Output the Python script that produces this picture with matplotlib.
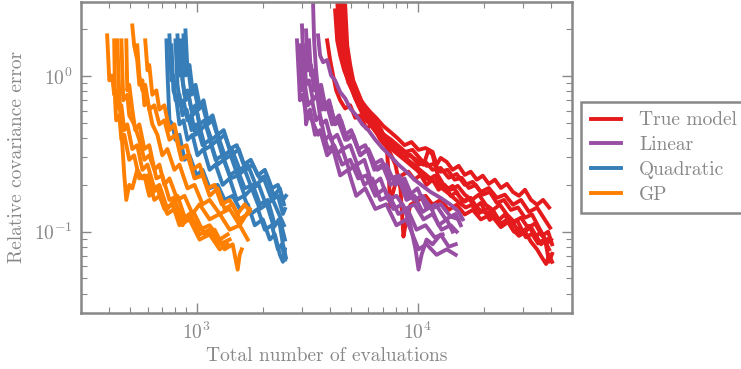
import numpy as np
import matplotlib.pyplot as plt

# colours / labels
labels = ['True model', 'Linear', 'Quadratic', 'GP']
colors = ['#e41a1c', '#984ea3', '#377eb8', '#ff7f00']

# True model runs
true_x = [
    [3899, 4023, 4150, 4285, 4467, 4706, 4959, 5225, 5506, 5867, 6244, 6788, 7380, 7942, 8368, 8635, 8818, 9292, 10105, 10873, 11700, 12725, 13840, 15040, 16360, 17780, 19336, 21469, 23836, 26465, 29383, 32624, 36222, 38590],
    [4329, 4420, 4560, 4706, 4856, 5065, 5280, 5506, 5802, 6113, 6510, 6934, 7460, 8028, 8635, 9292, 10105, 10873, 11700, 12725, 13840, 15040, 16360, 17780, 19336, 21020, 22860, 24840, 27030, 29383, 31950, 34750, 37760, 39810],
    [4467, 4560, 4706, 4856, 5065, 5280, 5563, 5867, 6244, 6647, 7152, 7697, 8368, 9099, 9895, 10648, 11220, 11700, 12330, 13130, 14128, 15200, 16360, 17600, 18940, 20370, 21920, 23590, 25380, 27310, 29383, 31620, 34040, 36610, 38980, 40640],
    [4608, 4706, 4807, 4959, 5171, 5392, 5681, 5987, 6376, 6788, 7227, 7697, 8195, 8730, 9292, 9895, 10536, 11220, 11950, 12725, 13550, 14420, 15360, 16360, 17415, 18540, 19730, 21020, 22390, 23836, 25380, 27030, 28780, 30640, 32624, 34750, 36610, 38170, 39390, 40640],
    [4706, 4807, 4959, 5117, 5336, 5563, 5867, 6180, 6510, 6860, 7227, 7380, 7536, 7697, 8028, 8547, 9099, 9690, 10319, 10990, 11700, 12460, 13270, 14128, 15040, 16020, 17060, 18160, 19336, 20590, 21920, 23340, 24840, 26465, 28180, 29990, 31950, 34040, 36222, 38590, 40216],
    [4420, 4513, 4657, 4807, 5012, 5225, 5506, 5802, 6180, 6578, 7080, 7619, 8195, 8818, 9490, 10210, 10990, 11830, 12725, 13690, 14720, 15850, 17060, 18350, 19730, 21240, 22860, 24600, 26465, 28480, 30640, 32960, 35470, 37760, 39390, 40640],
    [4238, 4329, 4467, 4657, 4856, 5117, 5392, 5745, 6113, 6510, 7004, 7536, 8110, 8730, 9390, 10105, 10873, 11700, 12200, 12725, 13550, 14420, 15360, 16360, 17415, 18540, 19730, 21020, 22390, 23836, 25380, 27030, 28780, 30640, 32624, 34750, 36990, 39390],
    [4513, 4608, 4706, 4856, 5012, 5225, 5446, 5745, 6050, 6442, 6860, 7303, 7780, 8280, 8818, 9390, 10000, 10650, 11340, 12070, 12850, 13690, 14580, 15520, 16530, 17600, 18740, 19950, 21240, 22620, 24090, 25630, 27310, 29080, 30960, 32960, 35110, 37380, 39390],
]
true_y = [
    [1.70, 1.27, 1.01, 0.81, 0.70, 0.62, 0.65, 0.54, 0.56, 0.46, 0.49, 0.39, 0.34, 0.27, 0.19, 0.093, 0.11, 0.149, 0.16, 0.17, 0.149, 0.16, 0.138, 0.149, 0.129, 0.138, 0.12, 0.129, 0.107, 0.119, 0.096, 0.107, 0.083, 0.089],
    [3.07, 1.97, 1.36, 1.09, 0.915, 0.81, 0.70, 0.62, 0.56, 0.49, 0.438, 0.39, 0.356, 0.336, 0.298, 0.312, 0.269, 0.281, 0.25, 0.257, 0.222, 0.235, 0.20, 0.209, 0.18, 0.191, 0.165, 0.173, 0.149, 0.16, 0.134, 0.143, 0.119, 0.106],
    [3.07, 1.97, 1.36, 1.01, 0.838, 0.72, 0.62, 0.52, 0.478, 0.425, 0.39, 0.36, 0.336, 0.312, 0.29, 0.269, 0.336, 0.312, 0.232, 0.20, 0.186, 0.197, 0.173, 0.16, 0.173, 0.149, 0.138, 0.149, 0.129, 0.116, 0.123, 0.106, 0.113, 0.094, 0.10, 0.083],
    [3.07, 1.70, 1.23, 0.94, 0.76, 0.65, 0.56, 0.507, 0.45, 0.40, 0.372, 0.336, 0.312, 0.29, 0.269, 0.25, 0.229, 0.216, 0.229, 0.20, 0.186, 0.197, 0.17, 0.156, 0.165, 0.143, 0.134, 0.143, 0.123, 0.113, 0.119, 0.103, 0.094, 0.10, 0.086, 0.077, 0.068, 0.062, 0.071, 0.064],
    [2.85, 1.58, 1.18, 0.94, 0.81, 0.70, 0.62, 0.56, 0.507, 0.45, 0.377, 0.25, 0.145, 0.173, 0.216, 0.232, 0.243, 0.216, 0.232, 0.20, 0.216, 0.186, 0.20, 0.17, 0.18, 0.156, 0.165, 0.143, 0.153, 0.13, 0.138, 0.119, 0.129, 0.109, 0.119, 0.10, 0.109, 0.092, 0.10, 0.084, 0.089],
    [2.65, 1.70, 1.27, 1.01, 0.838, 0.72, 0.642, 0.571, 0.515, 0.466, 0.419, 0.389, 0.356, 0.326, 0.336, 0.298, 0.265, 0.273, 0.243, 0.25, 0.216, 0.222, 0.191, 0.20, 0.173, 0.18, 0.153, 0.16, 0.138, 0.143, 0.123, 0.129, 0.106, 0.089, 0.064, 0.072],
    [2.65, 1.70, 1.36, 1.09, 0.94, 0.81, 0.72, 0.652, 0.588, 0.538, 0.478, 0.438, 0.40, 0.36, 0.377, 0.336, 0.345, 0.326, 0.269, 0.298, 0.281, 0.25, 0.265, 0.232, 0.243, 0.216, 0.229, 0.203, 0.216, 0.191, 0.203, 0.18, 0.17, 0.186, 0.16, 0.149, 0.16, 0.143],
    [2.85, 1.83, 1.36, 1.09, 0.94, 0.79, 0.70, 0.605, 0.538, 0.478, 0.425, 0.389, 0.356, 0.326, 0.298, 0.277, 0.257, 0.239, 0.222, 0.206, 0.191, 0.178, 0.165, 0.153, 0.143, 0.149, 0.13, 0.138, 0.119, 0.127, 0.109, 0.116, 0.10, 0.106, 0.092, 0.097, 0.084, 0.089, 0.077],
]

# Linear surrogate runs
lin_x = [
    [2848, 2909, 2937, 3030, 3130, 3263, 3437, 3623, 3899, 4150, 4467, 4856, 5280, 5802, 6442, 7227, 8028, 8913, 10105, 10990, 12200, 13550, 14890],
    [3000, 3062, 3130, 3193, 3332, 3547, 3700, 3939, 4194, 4560, 4959, 5392, 5867, 6442, 7080, 7776, 8547, 9292, 9793, 10105, 10430, 10990, 11700, 12725, 13840, 14890],
    [3130, 3193, 3297, 3404, 3547, 3700, 3899, 4110, 4373, 4706, 5065, 5506, 5987, 6578, 7227, 7942, 8730, 9588, 10536, 11575, 12725, 14128, 15360],
    [3365, 3404, 3474, 3547, 3661, 3817, 3981, 4194, 4420, 4706, 5012, 5392, 5802, 6308, 6860, 7536, 8280, 9099, 10000, 10990, 12070, 13410, 14890, 15686],
    [3547, 3623, 3738, 3899, 4064, 4238, 4467, 4706, 4959, 5280, 5623, 5987, 6442, 6934, 7536, 8195, 8913, 9690, 10536, 11460, 12725, 14128, 15360, 16020],
    [2937, 3000, 3094, 3193, 3332, 3474, 3623, 3817, 4023, 4285, 4560, 4909, 5280, 5745, 6244, 6788, 7460, 8195, 9005, 9895, 10873, 11950, 12990],
    [3062, 3130, 3228, 3365, 3512, 3661, 3855, 4064, 4329, 4608, 4959, 5336, 5745, 6244, 6788, 7380, 8028, 8818, 9690, 10648, 11700, 12850, 14128, 15040],
    [3228, 3297, 3404, 3512, 3661, 3817, 4023, 4238, 4513, 4807, 5117, 5506, 5925, 6376, 6934, 7536, 8195, 8913, 9690, 10536, 11460, 12460, 13550, 14420],
]
lin_y = [
    [1.70, 0.94, 0.70, 0.76, 0.56, 0.61, 0.42, 0.45, 0.31, 0.34, 0.23, 0.25, 0.17, 0.19, 0.14, 0.15, 0.11, 0.12, 0.077, 0.083, 0.071, 0.077, 0.071],
    [2.12, 1.01, 0.49, 0.56, 0.52, 0.42, 0.45, 0.34, 0.36, 0.27, 0.29, 0.22, 0.23, 0.17, 0.19, 0.14, 0.15, 0.11, 0.077, 0.057, 0.071, 0.089, 0.083, 0.096, 0.080, 0.083],
    [1.97, 1.09, 1.18, 0.81, 0.88, 0.61, 0.65, 0.49, 0.52, 0.39, 0.42, 0.31, 0.34, 0.25, 0.27, 0.20, 0.22, 0.16, 0.17, 0.14, 0.15, 0.125, 0.12],
    [3.07, 1.70, 1.09, 0.81, 0.88, 0.65, 0.70, 0.52, 0.56, 0.42, 0.45, 0.34, 0.36, 0.27, 0.29, 0.22, 0.23, 0.17, 0.19, 0.14, 0.15, 0.12, 0.13, 0.11],
    [1.83, 1.36, 1.23, 1.27, 1.01, 0.94, 0.79, 0.72, 0.62, 0.56, 0.49, 0.45, 0.39, 0.345, 0.307, 0.27, 0.243, 0.216, 0.197, 0.18, 0.165, 0.149, 0.134, 0.12],
    [1.58, 0.81, 0.88, 0.65, 0.70, 0.52, 0.56, 0.39, 0.42, 0.31, 0.34, 0.25, 0.27, 0.20, 0.22, 0.16, 0.17, 0.13, 0.14, 0.103, 0.11, 0.092, 0.096],
    [1.58, 0.88, 0.94, 0.70, 0.76, 0.49, 0.52, 0.39, 0.42, 0.34, 0.36, 0.27, 0.29, 0.20, 0.22, 0.16, 0.17, 0.14, 0.15, 0.12, 0.13, 0.103, 0.11, 0.10],
    [1.70, 1.01, 1.09, 0.76, 0.81, 0.61, 0.65, 0.49, 0.52, 0.39, 0.42, 0.31, 0.34, 0.25, 0.27, 0.20, 0.22, 0.16, 0.17, 0.134, 0.145, 0.11, 0.12, 0.10],
]

# Quadratic surrogate runs
quad_x = [
    [731, 738, 754, 778, 803, 837, 882, 929, 1000, 1065, 1146, 1246, 1340, 1457, 1568, 1705, 1835, 1995, 2146, 2262, 2383, 2460, 2512],
    [754, 770, 786, 803, 837, 864, 901, 949, 1000, 1065, 1146, 1220, 1313, 1412, 1535, 1652, 1797, 1933, 2102, 2262, 2383, 2512],
    [820, 837, 855, 882, 910, 949, 990, 1032, 1087, 1170, 1246, 1340, 1442, 1568, 1705, 1853, 2016, 2193, 2334, 2460, 2512],
    [891, 910, 929, 959, 990, 1032, 1076, 1122, 1182, 1246, 1327, 1412, 1520, 1635, 1760, 1894, 2037, 2193, 2334, 2460, 2538],
    [770, 786, 811, 837, 873, 910, 959, 1010, 1076, 1146, 1220, 1313, 1412, 1520, 1635, 1760, 1894, 2037, 2193, 2334, 2432, 2512],
    [846, 864, 891, 920, 959, 1000, 1043, 1099, 1170, 1246, 1327, 1427, 1535, 1652, 1778, 1913, 2059, 2215, 2359, 2486],
    [803, 820, 846, 873, 910, 949, 990, 1043, 1099, 1170, 1246, 1327, 1427, 1535, 1652, 1778, 1933, 2081, 2239, 2359, 2460, 2538],
    [873, 891, 920, 949, 979, 1021, 1065, 1122, 1182, 1259, 1340, 1442, 1552, 1670, 1797, 1933, 2081, 2239, 2383, 2486],
]
quad_y = [
    [1.70, 1.09, 0.52, 0.49, 0.39, 0.42, 0.29, 0.31, 0.23, 0.25, 0.19, 0.20, 0.16, 0.17, 0.14, 0.15, 0.11, 0.12, 0.089, 0.096, 0.071, 0.064, 0.077],
    [1.83, 0.94, 1.01, 0.70, 0.76, 0.56, 0.61, 0.45, 0.49, 0.36, 0.39, 0.29, 0.31, 0.23, 0.25, 0.19, 0.20, 0.15, 0.16, 0.11, 0.12, 0.089],
    [1.83, 1.01, 1.09, 0.76, 0.81, 0.61, 0.65, 0.49, 0.52, 0.39, 0.42, 0.31, 0.34, 0.25, 0.27, 0.20, 0.22, 0.16, 0.17, 0.13, 0.14],
    [1.97, 1.09, 1.18, 0.81, 0.88, 0.65, 0.70, 0.52, 0.56, 0.42, 0.45, 0.34, 0.36, 0.27, 0.29, 0.23, 0.25, 0.19, 0.20, 0.16, 0.17],
    [1.58, 0.81, 0.70, 0.49, 0.52, 0.39, 0.42, 0.31, 0.34, 0.25, 0.27, 0.20, 0.22, 0.16, 0.17, 0.13, 0.14, 0.103, 0.11, 0.077, 0.083, 0.066],
    [1.70, 0.94, 0.70, 0.76, 0.56, 0.61, 0.45, 0.49, 0.36, 0.39, 0.29, 0.31, 0.23, 0.25, 0.19, 0.20, 0.15, 0.16, 0.13, 0.11],
    [1.70, 0.88, 0.65, 0.70, 0.52, 0.56, 0.42, 0.45, 0.34, 0.36, 0.27, 0.29, 0.22, 0.23, 0.17, 0.19, 0.14, 0.15, 0.107, 0.12, 0.083, 0.068],
    [1.83, 1.01, 1.09, 0.76, 0.81, 0.61, 0.65, 0.49, 0.52, 0.39, 0.42, 0.31, 0.34, 0.25, 0.27, 0.22, 0.23, 0.17, 0.19, 0.15],
]

# GP surrogate runs
gp_x = [
    [394, 403, 415, 424, 438, 447, 457, 471, 486, 512, 539, 569, 600, 644, 679, 738, 794, 864, 929, 1032, 1146, 1273, 1383],
    [438, 447, 457, 471, 481, 496, 512, 539, 569, 600, 644, 679, 738, 794, 864, 929, 1032, 1146, 1273, 1412],
    [457, 466, 486, 496, 522, 551, 581, 611, 644, 679, 715, 754, 820, 882, 959, 1032, 1146, 1273, 1412, 1568, 1705],
    [512, 522, 539, 551, 569, 581, 600, 631, 665, 700, 738, 794, 837, 910, 979, 1065, 1146, 1273, 1412, 1568, 1741],
    [481, 486, 496, 512, 528, 551, 581, 611, 658, 700, 754, 820, 891, 979, 1087, 1207, 1340, 1457, 1535, 1568, 1601],
    [586, 600, 611, 631, 658, 679, 715, 754, 794, 837, 901, 959, 1032, 1122, 1207, 1299, 1412, 1535, 1652, 1741],
    [424, 428, 433, 447, 457, 471, 496, 522, 551, 581, 611, 665, 715, 778, 837, 929, 1032, 1146, 1273, 1383],
    [539, 551, 569, 586, 611, 644, 679, 715, 754, 803, 855, 910, 979, 1065, 1146, 1246, 1340, 1457, 1568, 1705],
]
gp_y = [
    [1.83, 0.94, 1.01, 0.76, 0.81, 0.61, 0.65, 0.45, 0.49, 0.34, 0.36, 0.25, 0.27, 0.19, 0.20, 0.14, 0.16, 0.12, 0.13, 0.103, 0.11, 0.089, 0.096],
    [1.70, 0.76, 0.45, 0.23, 0.16, 0.20, 0.19, 0.25, 0.22, 0.23, 0.16, 0.17, 0.13, 0.14, 0.11, 0.13, 0.096, 0.103, 0.083, 0.089],
    [1.70, 0.70, 0.76, 0.56, 0.49, 0.39, 0.29, 0.31, 0.25, 0.27, 0.20, 0.22, 0.16, 0.17, 0.13, 0.15, 0.12, 0.13, 0.103, 0.11, 0.089],
    [2.12, 1.58, 1.27, 0.88, 0.94, 0.65, 0.70, 0.49, 0.42, 0.31, 0.34, 0.25, 0.27, 0.19, 0.20, 0.15, 0.16, 0.13, 0.14, 0.11, 0.14],
    [1.70, 0.81, 0.88, 0.61, 0.45, 0.49, 0.34, 0.36, 0.22, 0.23, 0.16, 0.17, 0.12, 0.13, 0.096, 0.103, 0.077, 0.083, 0.057, 0.071, 0.077],
    [1.70, 1.09, 1.18, 0.76, 0.81, 0.61, 0.65, 0.45, 0.49, 0.34, 0.36, 0.25, 0.27, 0.19, 0.20, 0.15, 0.16, 0.13, 0.15, 0.135],
    [1.70, 0.70, 0.52, 0.56, 0.39, 0.42, 0.29, 0.31, 0.22, 0.23, 0.17, 0.19, 0.14, 0.15, 0.11, 0.12, 0.089, 0.096, 0.077, 0.083],
    [1.58, 1.01, 0.81, 0.88, 0.61, 0.65, 0.49, 0.52, 0.39, 0.42, 0.29, 0.31, 0.22, 0.23, 0.17, 0.19, 0.14, 0.15, 0.12, 0.13],
]

gray = '#888888'
plt.rcParams['font.family'] = 'serif'
plt.rcParams['font.serif'] = ['cmr10', 'DejaVu Serif']
plt.rcParams['mathtext.fontset'] = 'cm'
plt.rcParams['axes.formatter.use_mathtext'] = True
plt.rcParams['font.size'] = 14

fig = plt.figure(figsize=(7.41, 3.69), dpi=100)
ax = fig.add_axes([0.1093, 0.1518, 0.6626, 0.8428])

groups = [(true_x, true_y), (lin_x, lin_y), (quad_x, quad_y), (gp_x, gp_y)]
for (xs, ys), c, lab in zip(groups, colors, labels):
    for i in range(len(xs)):
        ax.plot(xs[i], ys[i], color=c, lw=2.8, label=lab if i == 0 else None)

ax.set_xscale('log')
ax.set_yscale('log')
ax.set_xlim(300, 50000)
ax.set_ylim(0.03, 3)

ax.set_xlabel('Total number of evaluations', color=gray, fontsize=14, labelpad=3)
ax.set_ylabel('Relative covariance error', color=gray, fontsize=14, labelpad=6)

for s in ax.spines.values():
    s.set_color(gray)
    s.set_linewidth(1.8)
ax.tick_params(which='both', direction='in', top=True, right=True, colors=gray, labelcolor=gray)
ax.tick_params(which='major', length=7, width=1, pad=6)
ax.tick_params(which='minor', length=4, width=0.8)
ax.tick_params(axis='both', labelsize=14)

leg = ax.legend(loc='center left', bbox_to_anchor=(1.018, 0.5), borderaxespad=0,
                fancybox=False, edgecolor=gray, framealpha=1, handlelength=1.55,
                handletextpad=0.95, fontsize=14, borderpad=0.5, labelspacing=0.35)
leg.get_frame().set_linewidth(1.8)
for t in leg.get_texts():
    t.set_color(gray)

fig.savefig('out.png', dpi=100)
